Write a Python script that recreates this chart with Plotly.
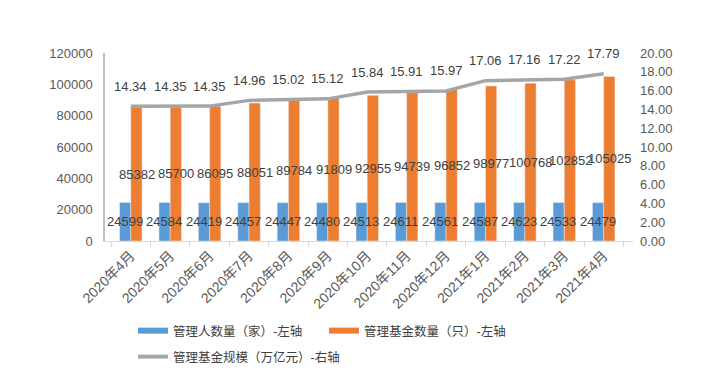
import plotly.graph_objects as go

months = ["2020年4月", "2020年5月", "2020年6月", "2020年7月", "2020年8月", "2020年9月",
          "2020年10月", "2020年11月", "2020年12月", "2021年1月", "2021年2月", "2021年3月", "2021年4月"]
managers = [24599, 24584, 24419, 24457, 24447, 24480, 24513, 24611, 24561, 24587, 24623, 24533, 24479]
funds = [85382, 85700, 86095, 88051, 89784, 91809, 92955, 94739, 96852, 98977, 100768, 102852, 105025]
scale = [14.34, 14.35, 14.35, 14.96, 15.02, 15.12, 15.84, 15.91, 15.97, 17.06, 17.16, 17.22, 17.79]

name_mgr = "管理人数量（家）-左轴"
name_fund = "管理基金数量（只）-左轴"
name_scale = "管理基金规模（万亿元）-右轴"

BLUE = "#5B9BD5"
ORANGE = "#ED7D31"
GRAY = "#A5A5A5"
TXT = "#404040"
FONT = "Liberation Sans, Arial, Noto Sans CJK SC"

# page body has an 8px default margin: figure occupies 707x370 of the 715x378 window
W, H = 707, 370

fig = go.Figure()
fig.add_trace(go.Bar(x=months, y=managers, name=name_mgr, marker_color=BLUE, showlegend=False))
fig.add_trace(go.Bar(x=months, y=funds, name=name_fund, marker_color=ORANGE, showlegend=False))
fig.add_trace(go.Scatter(x=months, y=scale, name=name_scale, yaxis="y2", mode="lines",
                         line=dict(color=GRAY, width=3.5), showlegend=False))

# legend-only entries (wide swatches like the original)
for nm, col, w, lg in [(name_mgr, BLUE, 6, "legend"), (name_fund, ORANGE, 6, "legend"),
                       (name_scale, GRAY, 4, "legend2")]:
    fig.add_trace(go.Scatter(x=[None], y=[None], name=nm, mode="lines", legend=lg,
                             line=dict(color=col, width=w), showlegend=True))

ann = []
shift = 5.8
for m, a, b, s in zip(months, managers, funds, scale):
    ann.append(dict(x=m, y=a / 2, xref="x", yref="y", text=str(a), showarrow=False,
                    xshift=-shift, font=dict(size=13, color=TXT, family=FONT)))
    ann.append(dict(x=m, y=b / 2, xref="x", yref="y", text=str(b), showarrow=False,
                    xshift=shift, font=dict(size=13, color=TXT, family=FONT)))
    ann.append(dict(x=m, y=s, xref="x", yref="y2", text=f"{s:.2f}", showarrow=False,
                    yshift=20, font=dict(size=13, color=TXT, family=FONT)))

leg_common = dict(orientation="h", xref="container", yref="container", xanchor="left",
                  yanchor="middle", font=dict(size=12.5, color="#404040"),
                  itemwidth=30, bgcolor="rgba(0,0,0,0)")

fig.update_layout(
    width=W, height=H,
    margin=dict(l=97, r=82, t=45, b=137, autoexpand=False),
    paper_bgcolor="white", plot_bgcolor="white",
    barmode="group", bargap=0.43, bargroupgap=0,
    font=dict(family=FONT, color="#595959", size=13),
    xaxis=dict(type="category", tickangle=-45, showline=True, linecolor="#D9D9D9", linewidth=1,
               ticks="outside", tickson="boundaries", ticklen=5, tickcolor="#D9D9D9",
               showgrid=False, tickfont=dict(size=14, color="#595959"), automargin=False),
    yaxis=dict(range=[0, 120000], dtick=20000, tickformat="d", showgrid=False, showline=True,
               linecolor="#BFBFBF", linewidth=1.5, ticks="", zeroline=False, automargin=False,
               tickfont=dict(size=13, color="#595959"), ticklabelstandoff=8),
    yaxis2=dict(range=[0, 20], dtick=2, tickformat=".2f", overlaying="y", side="right",
                showgrid=False, showline=False, zeroline=False, ticks="", automargin=False,
                tickfont=dict(size=13, color="#595959"), ticklabelstandoff=6),
    legend=dict(x=125 / W, y=1 - 323 / H, entrywidth=146, entrywidthmode="pixels", **leg_common),
    legend2=dict(x=125 / W, y=1 - 349 / H, **leg_common),
    annotations=ann,
)

fig.write_html("out.html")
